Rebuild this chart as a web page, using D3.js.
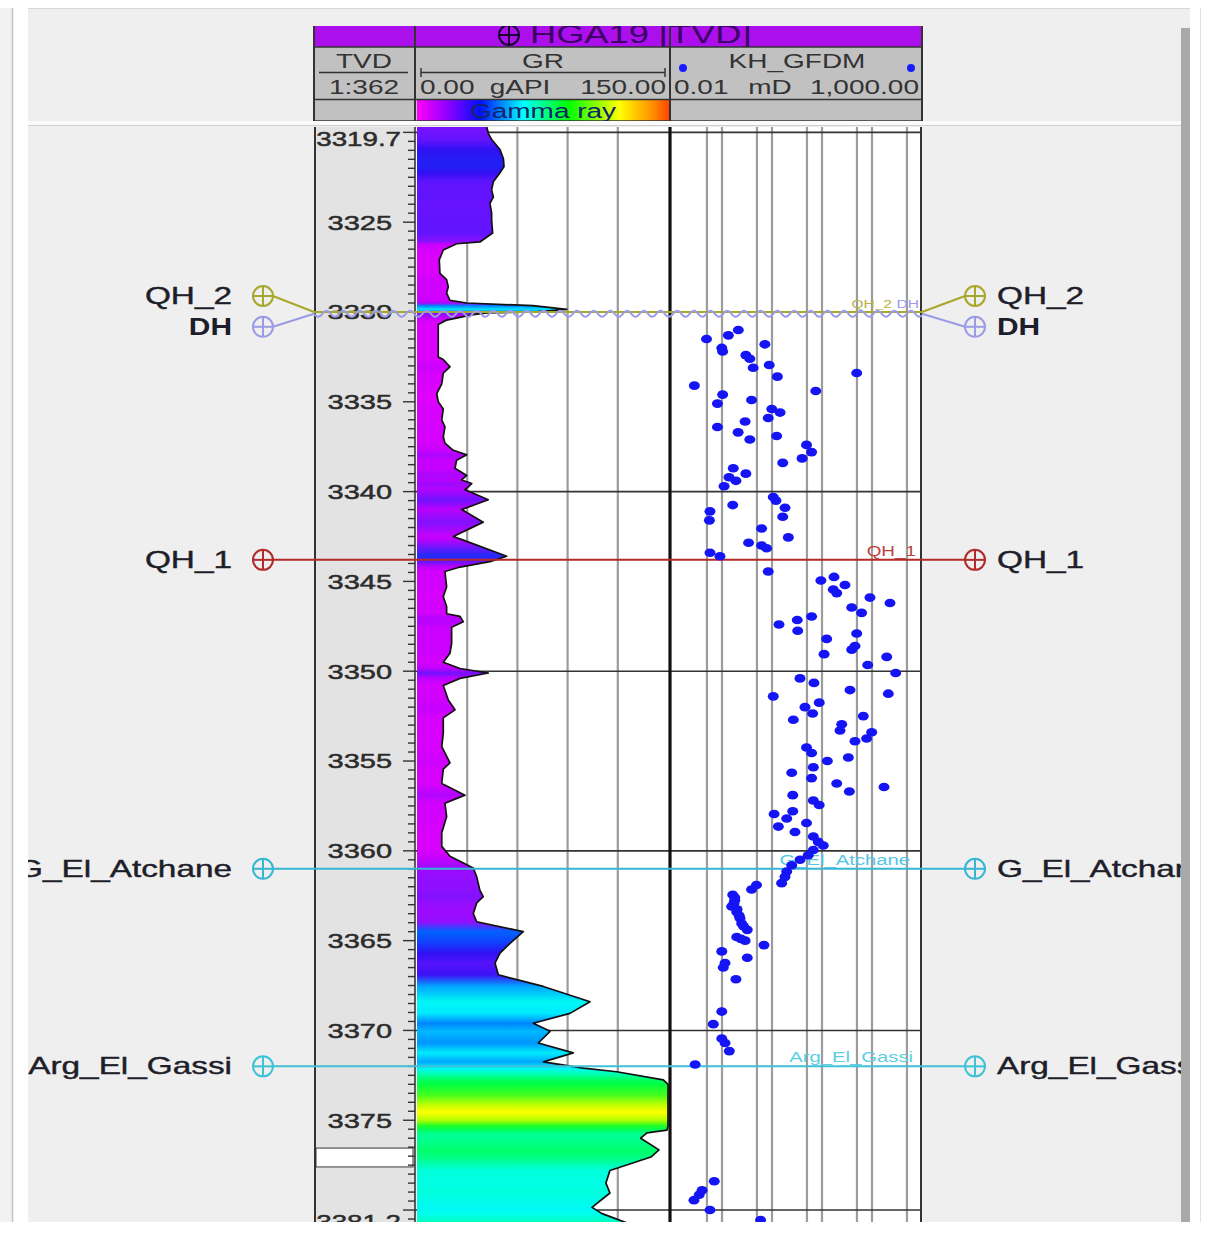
<!DOCTYPE html>
<html>
<head>
<meta charset="utf-8">
<script src="https://cdn.jsdelivr.net/npm/d3@7"></script>
<style>
  html, body { margin: 0; padding: 0; background: #fff; }
  svg { display: block; font-family: "Liberation Sans", Arial, sans-serif; }
</style>
</head>
<body>
<svg id="chart" width="1208" height="1236"></svg>
<script>
// ---------------- Well HGA19 – log data ----------------
// Gamma ray (gAPI) against true vertical depth (m)
const grDepth = [
  3319.7, 3320.05, 3320.4, 3320.95, 3321.45, 3321.9, 3322.25, 3322.75, 3323.2, 3323.6,
  3323.95, 3324.5, 3324.9, 3325.6, 3326.1, 3326.2, 3326.55, 3327.1, 3327.85, 3328.2,
  3328.6, 3328.95, 3329.35, 3329.5, 3329.65, 3329.85, 3330.0, 3330.05, 3330.15, 3330.45,
  3330.7, 3331.35, 3332.5, 3332.65, 3333.05, 3333.4, 3334.0, 3334.55, 3335.0, 3335.4,
  3336.0, 3336.4, 3336.95, 3337.3, 3337.7, 3337.95, 3338.25, 3338.7, 3339.1, 3339.35,
  3339.55, 3339.9, 3340.45, 3341.0, 3341.7, 3342.5, 3342.7, 3343.6, 3343.9, 3344.2,
  3344.45, 3345.3, 3345.85, 3346.4, 3346.8, 3346.95, 3347.25, 3347.55, 3348.45, 3349.0,
  3349.5, 3349.85, 3350.1, 3350.4, 3350.8, 3351.6, 3352.15, 3352.6, 3353.45, 3354.2,
  3355.1, 3355.45, 3356.25, 3356.9, 3357.35, 3358.1, 3359.0, 3359.75, 3360.3, 3360.95,
  3361.45, 3362.2, 3362.55, 3362.9, 3363.5, 3363.95, 3364.5, 3365.15, 3365.7, 3366.25,
  3366.9, 3367.55, 3368.4, 3369.05, 3369.6, 3370.05, 3370.7, 3371.25, 3371.75, 3372.1,
  3372.3, 3372.75, 3373.0, 3373.6, 3374.15, 3374.55, 3375.0, 3375.3, 3375.55, 3375.7,
  3376.0, 3376.65, 3377.05, 3377.8, 3378.5, 3379.05, 3379.85, 3380.2, 3380.7, 3381.2
];
const grValue = [
  41.7, 42.6, 44.6, 49.6, 51.6, 52.0, 49.6, 45.6, 44.6, 45.6,
  43.6, 44.6, 44.6, 45.2, 37.6, 23.7, 15.7, 13.3, 13.7, 17.7,
  18.7, 17.7, 19.7, 29.7, 69.3, 89.5, 69.3, 41.7, 33.6, 17.7,
  12.7, 12.7, 12.7, 15.7, 19.7, 15.7, 14.8, 11.8, 12.7, 15.7,
  14.8, 16.7, 15.7, 16.7, 21.7, 29.7, 23.7, 22.7, 29.7, 26.7,
  32.7, 28.7, 42.6, 26.7, 39.6, 21.7, 27.7, 53.6, 43.6, 25.7,
  16.7, 17.7, 15.7, 17.7, 17.7, 25.7, 27.7, 20.7, 20.7, 19.7,
  15.7, 25.7, 42.6, 25.7, 15.7, 18.7, 22.7, 15.7, 15.7, 14.8,
  19.7, 15.7, 14.8, 28.7, 16.7, 17.7, 14.8, 14.8, 19.7, 33.6,
  35.7, 37.6, 39.6, 35.7, 33.6, 35.7, 63.5, 55.6, 49.6, 46.6,
  48.6, 75.5, 103.4, 91.4, 69.5, 79.5, 72.5, 93.4, 75.5, 99.4,
  119.3, 147.2, 156, 170, 188, 200, 185, 165, 149.4, 137.4,
  133.7, 144.6, 139.8, 115.3, 112.9, 115.3, 104.6, 110.6, 124.9, 133
];

// Horizontal permeability KH_GFDM (mD) – discrete samples
const khDepth = [
  3331.5, 3331.3, 3331.0, 3332.0, 3332.2, 3331.8, 3332.4, 3332.6, 3332.95, 3333.1,
  3333.6, 3333.4, 3334.1, 3334.4, 3334.6, 3335.1, 3334.9, 3335.4, 3335.6, 3335.9,
  3336.1, 3336.4, 3336.7, 3337.1, 3336.9, 3337.4, 3337.8, 3338.15, 3338.4, 3338.7,
  3339.0, 3339.2, 3339.4, 3339.7, 3340.3, 3340.5, 3340.75, 3340.9, 3341.1, 3341.6,
  3341.4, 3342.05, 3342.55, 3342.85, 3343.0, 3343.15, 3343.4, 3343.6, 3344.45, 3344.95,
  3344.75, 3345.45, 3345.2, 3345.65, 3345.9, 3346.2, 3346.45, 3346.75, 3346.95, 3347.15,
  3347.4, 3347.75, 3347.9, 3348.2, 3348.6, 3348.8, 3349.05, 3349.2, 3349.65, 3350.1,
  3350.4, 3350.65, 3351.05, 3351.25, 3351.4, 3351.75, 3352.0, 3352.35, 3352.7, 3352.5,
  3352.95, 3353.3, 3353.4, 3353.75, 3353.9, 3354.25, 3354.55, 3354.8, 3355.0, 3355.35,
  3355.65, 3355.95, 3356.25, 3356.45, 3356.7, 3356.9, 3357.2, 3357.45, 3357.8, 3357.95,
  3358.2, 3358.45, 3358.65, 3358.95, 3359.2, 3359.5, 3359.7, 3359.95, 3360.25, 3360.5,
  3360.8, 3361.15, 3361.45, 3361.8, 3361.9, 3362.15, 3362.45, 3362.75, 3363.1, 3363.4,
  3363.75, 3364.05, 3364.4, 3364.8, 3365.0, 3365.25, 3365.6, 3365.95, 3366.25, 3366.5,
  3367.15, 3368.95, 3369.65, 3370.45, 3370.7, 3371.15, 3371.9, 3378.4, 3378.9, 3379.15,
  3379.45, 3380.0, 3380.55, 3362.6, 3362.9, 3363.25, 3363.6, 3364.2, 3364.9
];
const khValue = [
  0.049, 0.134, 0.212, 0.099, 0.103, 0.72, 0.30, 0.36, 0.88, 0.42,
  1.28, 49.4, 0.028, 7.5, 0.103, 0.081, 0.39, 0.99, 1.45, 0.84,
  0.29, 0.081, 0.21, 0.36, 1.24, 4.9, 6.2, 4.0, 1.64, 0.168,
  0.30, 0.138, 0.19, 0.11, 1.06, 1.2, 0.164, 1.82, 0.0575, 0.056,
  1.64, 0.62, 2.12, 0.34, 0.62, 0.78, 0.0575, 0.091, 0.84, 9.5,
  17.4, 16.8, 28.8, 19.7, 91, 229, 39.3, 62, 6.2, 3.2,
  1.38, 3.27, 49.4, 12.4, 45.7, 39.3, 11, 197, 82, 298,
  3.63, 6.9, 36.3, 212, 1.06, 8.8, 4.57, 6.5, 2.67, 67,
  24.8, 22.9, 98.6, 78, 45.7, 4.9, 6.2, 33.6, 12.8, 6.7,
  2.48, 6.2, 19.7, 174, 35.2, 2.6, 6.7, 8.8, 2.6, 1.1,
  1.97, 4.9, 1.34, 2.88, 6.7, 8.4, 10.6, 6.7, 5.3, 3.63,
  2.48, 1.97, 1.82, 1.56, 0.49, 0.39, 0.164, 0.18, 0.156, 0.197,
  0.229, 0.248, 0.32, 0.197, 0.29, 0.69, 0.099, 0.32, 0.115, 0.106,
  0.19, 0.099, 0.067, 0.099, 0.115, 0.14, 0.029, 0.070, 0.04, 0.035,
  0.0275, 0.0575, 0.59, 0.18, 0.174, 0.2, 0.22, 0.27, 0.24
];

// Well tops
const topNames  = ["QH_2", "DH", "QH_1", "G_El_Atchane", "Arg_El_Gassi"];
const topDepths = [3330.0, 3330.1, 3343.8, 3361.0, 3372.0];

// Axis labels and grid values
const depthLabels = [3325, 3330, 3335, 3340, 3345, 3350, 3355, 3360, 3365, 3370, 3375];
const depthRange  = [3319.7, 3381.2];
const depthGaps   = [[3376.55, 3377.6]];
const gridDepths  = [3320, 3330, 3340, 3350, 3360, 3370, 3380];
const grGrid      = [30, 60, 90, 120];
const khGrid      = [0.05, 0.1, 0.5, 1, 5, 10, 50, 100, 500];

// ---------------- styles ----------------
const topStyle = {
  "QH_2":         { color: "#a7a72c", labelDy: -16, smallColor: "#b4b43c", smallSize: 11.5, smallEnd: 892 },
  "DH":           { color: "#9b9be6", labelDy: 13, bold: true, wavy: true, smallColor: "#9a9aee", smallSize: 11.5, smallEnd: 919, smallRef: 0 },
  "QH_1":         { color: "#b22a2a", labelDy: 0, smallColor: "#c04040", smallSize: 14, smallEnd: 916 },
  "G_El_Atchane": { color: "#36b6d2", labelDy: 0, smallColor: "#52c6e4", smallSize: 15, smallEnd: 910 },
  "Arg_El_Gassi": { color: "#3ec2d6", labelDy: 0, smallColor: "#5ccee4", smallSize: 15, smallEnd: 913 }
};
// Gamma ray colour fill table
const fillStops  = [12, 25, 38, 46, 50, 56, 64, 75, 90, 110, 135, 160, 185, 200];
const fillColors = ["#e000ff", "#c000ff", "#8a10ff", "#5c14ff", "#2c10f0", "#1040ff", "#0064ff",
                    "#00a4ff", "#00e8ff", "#00fff0", "#00ff90", "#00ff30", "#b0ff00", "#ffff00"];
// Palette shown in the header bar
const barStops  = [0, 0.12, 0.25, 0.42, 0.6, 0.8, 0.93, 1];
const barColors = ["#ff00ff", "#9000ff", "#0010ff", "#00ffff", "#00ff00", "#ffff00", "#ff9000", "#ff4000"];

// ---------------- set-up ----------------
const W = 1208, H = 1236;
const svg = d3.select("#chart");
const defs = svg.append("defs");

const TRACK_TOP = 127, VIS_BOT = 1222;
const X_DEPTH = 314, X_GR = 415, X_KH = 670, X_END = 922;

const y  = d3.scaleLinear().domain(depthRange).range([127, 1231.6]);
const gx = d3.scaleLinear().domain([0, 150]).range([417, 668]);
const kx = d3.scaleLog().domain([0.01, 1000]).range([672, 922]);
const fillColor = d3.scaleLinear().domain(fillStops).range(fillColors)
  .interpolate(d3.interpolateRgb).clamp(true);

function label(g, str, x, yy, o = {}) {
  const t = g.append("text")
    .attr("transform", `translate(${x},${yy}) scale(${o.sx || 1.3},1)`)
    .attr("text-anchor", o.anchor || "start")
    .attr("dominant-baseline", o.baseline || "central")
    .attr("font-size", o.size || 20)
    .attr("font-weight", o.weight || "normal")
    .attr("fill", o.fill || "#222")
    .text(str);
  if (o.heavy) t.attr("stroke", o.fill || "#222").attr("stroke-width", o.heavy);
  return t;
}
function topSymbol(g, cx, cy, color) {
  g.append("circle").attr("cx", cx).attr("cy", cy).attr("r", 10)
    .attr("fill", "none").attr("stroke", color).attr("stroke-width", 2);
  g.append("line").attr("x1", cx - 10).attr("x2", cx + 10).attr("y1", cy).attr("y2", cy)
    .attr("stroke", color).attr("stroke-width", 2);
  g.append("line").attr("x1", cx).attr("x2", cx).attr("y1", cy - 10).attr("y2", cy + 10)
    .attr("stroke", color).attr("stroke-width", 2);
}

// ---------------- window frame ----------------
svg.append("rect").attr("width", W).attr("height", H).attr("fill", "#fff");
svg.append("rect").attr("x", 0).attr("y", 8).attr("width", 12).attr("height", VIS_BOT - 8).attr("fill", "#f2f2f2");
svg.append("line").attr("x1", 12.5).attr("x2", 12.5).attr("y1", 8).attr("y2", VIS_BOT)
  .attr("stroke", "#c4c4c4").attr("stroke-width", 1.5);
svg.append("rect").attr("x", 28).attr("y", 8).attr("width", 1162).attr("height", VIS_BOT - 8).attr("fill", "#efefef");
svg.append("line").attr("x1", 28).attr("x2", 1190).attr("y1", 8.5).attr("y2", 8.5).attr("stroke", "#d8d8d8");

// ---------------- header ----------------
const head = svg.append("g");
defs.append("clipPath").attr("id", "titleClip").append("rect")
  .attr("x", X_DEPTH).attr("y", 26).attr("width", X_END - X_DEPTH).attr("height", 21);
head.append("rect").attr("x", X_DEPTH).attr("y", 26).attr("width", X_END - X_DEPTH).attr("height", 21).attr("fill", "#ab10ec");
const title = head.append("g").attr("clip-path", "url(#titleClip)");
topSymbol(title, 509, 35, "#1a0030");
label(title, "HGA19 [TVD]", 530, 43, { size: 25, sx: 1.45, baseline: "alphabetic", fill: "#3c0066" });

head.append("rect").attr("x", X_DEPTH).attr("y", 47).attr("width", X_END - X_DEPTH).attr("height", 74).attr("fill", "#c1c1c1");

// palette bar
const barGrad = defs.append("linearGradient").attr("id", "barGrad");
barStops.forEach((s, i) => barGrad.append("stop").attr("offset", s).attr("stop-color", barColors[i]));
head.append("rect").attr("x", 417).attr("y", 100).attr("width", X_KH - 417).attr("height", 21).attr("fill", "url(#barGrad)");

[47, 99.5, 121].forEach(v => head.append("line").attr("x1", X_DEPTH).attr("x2", X_END).attr("y1", v).attr("y2", v)
  .attr("stroke", "#333").attr("stroke-width", 1.5));
[X_DEPTH, X_GR, X_KH, X_END].forEach(v => head.append("line").attr("x1", v).attr("x2", v).attr("y1", 26).attr("y2", 121)
  .attr("stroke", "#333").attr("stroke-width", 2));

label(head, "TVD", 364, 61, { anchor: "middle", sx: 1.4, fill: "#333" });
head.append("line").attr("x1", 319).attr("x2", 408).attr("y1", 72.5).attr("y2", 72.5).attr("stroke", "#333").attr("stroke-width", 1.5);
label(head, "1:362", 364, 87, { anchor: "middle", sx: 1.4, fill: "#333" });

label(head, "GR", 543, 61, { anchor: "middle", sx: 1.4, fill: "#333" });
head.append("line").attr("x1", 421).attr("x2", 665).attr("y1", 72.5).attr("y2", 72.5).attr("stroke", "#333").attr("stroke-width", 1.5);
[421, 665].forEach(v => head.append("line").attr("x1", v).attr("x2", v).attr("y1", 68).attr("y2", 77).attr("stroke", "#333").attr("stroke-width", 1.5));
label(head, "0.00", 420, 87, { sx: 1.4, fill: "#333" });
label(head, "gAPI", 520, 87, { anchor: "middle", sx: 1.4, fill: "#333" });
label(head, "150.00", 666, 87, { anchor: "end", sx: 1.4, fill: "#333" });

label(head, "KH_GFDM", 797, 61, { anchor: "middle", sx: 1.4, fill: "#333" });
[683, 911].forEach(v => head.append("circle").attr("cx", v).attr("cy", 68).attr("r", 4).attr("fill", "#1a1aff"));
label(head, "0.01", 674, 87, { sx: 1.4, fill: "#333" });
label(head, "mD", 770, 87, { anchor: "middle", sx: 1.4, fill: "#333" });
label(head, "1,000.00", 919, 87, { anchor: "end", sx: 1.4, fill: "#333" });

label(head, "Gamma ray", 543, 111, { anchor: "middle", sx: 1.4, fill: "#14246a" });

// separator between header and tracks
svg.append("rect").attr("x", 28).attr("y", 121).attr("width", 1162).attr("height", 4).attr("fill", "#fbfbfb");
svg.append("line").attr("x1", 28).attr("x2", 1190).attr("y1", 125.5).attr("y2", 125.5).attr("stroke", "#cfcfcf");

// ---------------- tracks ----------------
defs.append("clipPath").attr("id", "trackClip").append("rect")
  .attr("x", X_DEPTH).attr("y", TRACK_TOP).attr("width", X_END - X_DEPTH).attr("height", VIS_BOT - TRACK_TOP);
const tracks = svg.append("g").attr("clip-path", "url(#trackClip)");

tracks.append("rect").attr("x", X_DEPTH).attr("y", TRACK_TOP).attr("width", X_GR - X_DEPTH).attr("height", VIS_BOT - TRACK_TOP).attr("fill", "#e3e3e3");
tracks.append("rect").attr("x", X_GR).attr("y", TRACK_TOP).attr("width", X_END - X_GR).attr("height", VIS_BOT - TRACK_TOP).attr("fill", "#fff");

// depth gap in the TVD track
depthGaps.forEach(g => {
  tracks.append("rect").attr("x", 316).attr("y", y(g[0])).attr("width", 97).attr("height", y(g[1]) - y(g[0]))
    .attr("fill", "#fff").attr("stroke", "#555").attr("stroke-width", 1.2);
});

// grid
grGrid.forEach(v => tracks.append("line").attr("x1", gx(v)).attr("x2", gx(v)).attr("y1", TRACK_TOP).attr("y2", VIS_BOT)
  .attr("stroke", "#9c9c9c").attr("stroke-width", 2.2));
khGrid.forEach(v => tracks.append("line").attr("x1", kx(v)).attr("x2", kx(v)).attr("y1", TRACK_TOP).attr("y2", VIS_BOT)
  .attr("stroke", "#9c9c9c").attr("stroke-width", 2.2));
gridDepths.forEach(d => tracks.append("line").attr("x1", X_GR).attr("x2", X_END).attr("y1", y(d)).attr("y2", y(d))
  .attr("stroke", "#333").attr("stroke-width", 1.6));

// gamma ray colour fill
const grSamples = grDepth.map((d, i) => ({ d, v: grValue[i] }));
const y0 = y(grDepth[0]), y1 = y(grDepth[grDepth.length - 1]);
const grad = defs.append("linearGradient").attr("id", "grFill").attr("gradientUnits", "userSpaceOnUse")
  .attr("x1", 0).attr("x2", 0).attr("y1", y0).attr("y2", y1);
grSamples.forEach(s => grad.append("stop").attr("offset", (y(s.d) - y0) / (y1 - y0)).attr("stop-color", fillColor(s.v)));

const grX = s => gx(Math.min(s.v, 150));
tracks.append("path").datum(grSamples)
  .attr("d", d3.area().y(s => y(s.d)).x0(gx(0)).x1(grX))
  .attr("fill", "url(#grFill)");
tracks.append("path").datum(grSamples)
  .attr("d", d3.line().y(s => y(s.d)).x(grX))
  .attr("fill", "none").attr("stroke", "#111").attr("stroke-width", 1.7).attr("stroke-linejoin", "round");

// depth ticks
d3.range(3320, 3381.01, 0.5).forEach(d => {
  const major = Math.abs(d % 5) < 1e-6;
  tracks.append("line").attr("x1", X_GR - (major ? 12 : 7)).attr("x2", X_GR).attr("y1", y(d)).attr("y2", y(d))
    .attr("stroke", "#333").attr("stroke-width", 1.4);
});
depthLabels.forEach(d => label(tracks, d3.format("d")(d), 392, y(d), { anchor: "end", size: 21, sx: 1.38, fill: "#2c2c2c", heavy: 0.5 }));
label(tracks, d3.format(".1f")(depthRange[0]), 401, y(depthRange[0]) + 12, { anchor: "end", size: 21, sx: 1.32, fill: "#2c2c2c", heavy: 0.5 });
label(tracks, d3.format(".1f")(depthRange[1]), 401, y(depthRange[1]) - 10, { anchor: "end", size: 21, sx: 1.32, fill: "#2c2c2c", heavy: 0.5 });

// track borders
tracks.append("line").attr("x1", X_DEPTH + 1).attr("x2", X_DEPTH + 1).attr("y1", TRACK_TOP).attr("y2", VIS_BOT).attr("stroke", "#333").attr("stroke-width", 2);
tracks.append("line").attr("x1", X_GR).attr("x2", X_GR).attr("y1", TRACK_TOP).attr("y2", VIS_BOT).attr("stroke", "#333").attr("stroke-width", 1.6);
tracks.append("line").attr("x1", X_KH).attr("x2", X_KH).attr("y1", TRACK_TOP).attr("y2", VIS_BOT).attr("stroke", "#111").attr("stroke-width", 3.2);
tracks.append("line").attr("x1", X_END - 1).attr("x2", X_END - 1).attr("y1", TRACK_TOP).attr("y2", VIS_BOT).attr("stroke", "#333").attr("stroke-width", 2);

// ---------------- well tops ----------------
defs.append("clipPath").attr("id", "panelClip").append("rect")
  .attr("x", 28).attr("y", 0).attr("width", 1181 - 28).attr("height", VIS_BOT);
const topsG = svg.append("g").attr("clip-path", "url(#panelClip)");
const LEFT_SYM = 263, RIGHT_SYM = 975;

topNames.forEach((name, i) => {
  const st = topStyle[name];
  const ly = y(topDepths[i]);
  const sy = ly + st.labelDy;
  // line across the tracks
  if (st.wavy) {
    const pts = d3.range(X_DEPTH, X_END + 0.5, 1).map(x => [x, ly + 3 * Math.sin(2 * Math.PI * (x - X_DEPTH) / 16.7)]);
    topsG.append("path").attr("d", d3.line()(pts)).attr("fill", "none").attr("stroke", st.color).attr("stroke-width", 2);
  } else {
    topsG.append("line").attr("x1", X_DEPTH).attr("x2", X_END).attr("y1", ly).attr("y2", ly)
      .attr("stroke", st.color).attr("stroke-width", 2);
  }
  // connectors to the side symbols
  topsG.append("line").attr("x1", LEFT_SYM + 10).attr("y1", sy).attr("x2", X_DEPTH).attr("y2", ly)
    .attr("stroke", st.color).attr("stroke-width", 2);
  topsG.append("line").attr("x1", X_END).attr("y1", ly).attr("x2", RIGHT_SYM - 10).attr("y2", sy)
    .attr("stroke", st.color).attr("stroke-width", 2);
  topSymbol(topsG, LEFT_SYM, sy, st.color);
  topSymbol(topsG, RIGHT_SYM, sy, st.color);
  const sx = st.bold ? 1.3 : 1.45;
  const o = { size: 23, sx, weight: st.bold ? "bold" : "normal", fill: "#1e1e2a", heavy: st.bold ? 0 : 0.4 };
  label(topsG, name, 232, sy, Object.assign({ anchor: "end" }, o));
  label(topsG, name, 997, sy, Object.assign({ anchor: "start" }, o));
});

// small top names inside the permeability track
const smallG = svg.append("g").attr("clip-path", "url(#trackClip)");
topNames.forEach((name, i) => {
  const st = topStyle[name];
  const ref = st.smallRef !== undefined ? st.smallRef : i;
  const ly = y(topDepths[ref]);
  label(smallG, name, st.smallEnd, ly - 4, { anchor: "end", size: st.smallSize, sx: 1.35, baseline: "alphabetic", fill: st.smallColor });
});

// ---------------- permeability points ----------------
const khSamples = khDepth.map((d, i) => ({ d, v: khValue[i] }));
svg.append("g").attr("clip-path", "url(#trackClip)")
  .selectAll("ellipse").data(khSamples).join("ellipse")
  .attr("cx", s => kx(s.v)).attr("cy", s => y(s.d))
  .attr("rx", 5.5).attr("ry", 4.3)
  .attr("fill", "#1414f4");

// ---------------- outer edges ----------------
svg.append("rect").attr("x", 1181).attr("y", 28).attr("width", 9).attr("height", VIS_BOT - 28).attr("fill", "#a9a9a9");
svg.append("line").attr("x1", 1200.5).attr("x2", 1200.5).attr("y1", 8).attr("y2", VIS_BOT).attr("stroke", "#e2e2e2");
svg.append("rect").attr("x", 0).attr("y", VIS_BOT).attr("width", W).attr("height", H - VIS_BOT).attr("fill", "#fff");
</script>
</body>
</html>
